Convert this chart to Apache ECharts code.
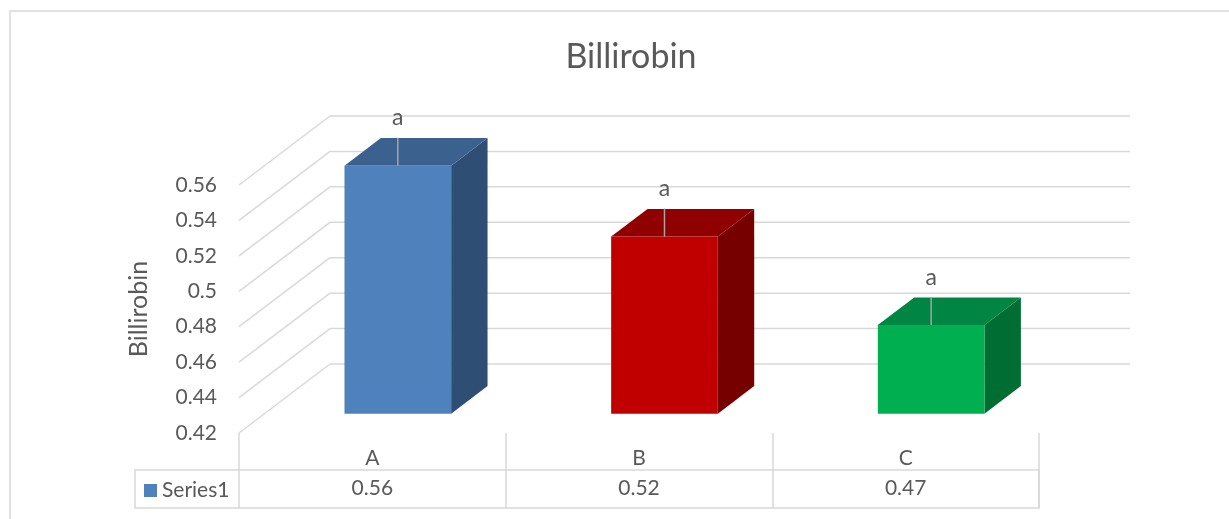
<!DOCTYPE html>
<html>
<head>
<meta charset="utf-8">
<title>Billirobin</title>
<script src="https://cdn.jsdelivr.net/npm/echarts@6/dist/echarts.min.js"></script>
<style>
  html, body { margin: 0; padding: 0; background: #fff; }
  #main { width: 1229px; height: 519px; }
</style>
</head>
<body>
<div id="main"></div>
<script>
// data
var categories = ["A", "B", "C"];
var values = [0.56, 0.52, 0.47];
var letters = ["a", "a", "a"];
var yTicks = [0.42, 0.44, 0.46, 0.48, 0.5, 0.52, 0.54, 0.56];

// colours of each box: front, top, side
var frontColors = ["#4f81bd", "#c00000", "#00b050"];
var topColors = ["#3b618e", "#900000", "#008542"];
var sideColors = ["#2f4e73", "#760000", "#006e32"];

// how far the back wall sits from the front plane (px)
var DX = 91, DY = -69;
var TEXT = "#595959", GRID = "#d9d9d9", FONT = "Lato";

var chart = echarts.init(document.getElementById("main"));

// side wall diagonal + back wall line for one tick
function wallItem(params, api) {
  var cs = params.coordSys;
  var y = api.coord([0, api.value(1)])[1];
  var x0 = cs.x, x1 = cs.x + cs.width;
  var st = { stroke: GRID, lineWidth: 1.5 };
  return {
    type: "group",
    children: [
      { type: "line", shape: { x1: x0, y1: y, x2: x0 + DX, y2: y + DY }, style: st },
      { type: "line", shape: { x1: x0 + DX, y1: y + DY, x2: x1 + DX, y2: y + DY }, style: st }
    ]
  };
}

function barItem(params, api) {
  var i = params.dataIndex;
  var base = api.coord([api.value(0), yTicks[0]]);
  var top = api.coord([api.value(0), api.value(1)]);
  var band = api.size([1, 0])[0];
  var hw = band * 0.2;
  var d0 = 0.28, d1 = 0.68;
  var cx = base[0] + DX * d0;
  var xl = cx - hw, xr = cx + hw;
  var yt = top[1] + DY * d0, yb = base[1] + DY * d0;
  var sx = DX * (d1 - d0), sy = DY * (d1 - d0);
  return {
    type: "group",
    children: [
      { type: "polygon", shape: { points: [[xr, yt], [xr, yb], [xr + sx, yb + sy], [xr + sx, yt + sy]] },
        style: { fill: sideColors[i] } },
      { type: "polygon", shape: { points: [[xl, yt], [xr, yt], [xr + sx, yt + sy], [xl + sx, yt + sy]] },
        style: { fill: topColors[i] } },
      { type: "rect", shape: { x: xl, y: yt, width: xr - xl, height: yb - yt },
        style: { fill: frontColors[i] } },
      { type: "line", shape: { x1: cx, y1: yt, x2: cx, y2: yt - 28 },
        style: { stroke: "#a6a6a6", lineWidth: 1.5 } },
      { type: "text", x: cx, y: yt - 48,
        style: { text: letters[i], fill: TEXT, font: "23px " + FONT, align: "center", verticalAlign: "middle" } }
    ]
  };
}

chart.setOption({
  animation: false,
  title: {
    text: "Billirobin",
    left: 626,
    textAlign: "center",
    top: 35,
    textStyle: { color: TEXT, fontFamily: FONT, fontSize: 34, fontWeight: "normal" }
  },
  legend: {
    data: ["Series1"],
    left: 144,
    top: 480,
    padding: 0,
    icon: "rect",
    itemWidth: 13,
    itemHeight: 13,
    itemGap: 5,
    textStyle: { color: TEXT, fontFamily: FONT, fontSize: 21 }
  },
  grid: { left: 239, right: 190, top: 185, bottom: 86 },
  xAxis: [
    {
      type: "category",
      data: categories,
      axisLine: { show: false },
      axisTick: { show: true, length: 75, lineStyle: { color: GRID, width: 1.5 } },
      axisLabel: { color: TEXT, fontFamily: FONT, fontSize: 21, margin: 15 },
      splitLine: { show: false }
    },
    {
      type: "category",
      position: "bottom",
      offset: 0,
      data: values.map(String),
      axisLine: { show: false },
      axisTick: { show: false },
      axisLabel: { color: TEXT, fontFamily: FONT, fontSize: 21, margin: 45 },
      splitLine: { show: false }
    }
  ],
  yAxis: {
    type: "value",
    min: yTicks[0],
    max: yTicks[yTicks.length - 1],
    interval: 0.02,
    name: "Billirobin",
    nameLocation: "middle",
    nameRotate: 90,
    nameGap: 88,
    nameTextStyle: { color: TEXT, fontFamily: FONT, fontSize: 25 },
    axisLine: { show: false },
    axisTick: { show: false },
    splitLine: { show: false },
    axisLabel: { color: TEXT, fontFamily: FONT, fontSize: 21, margin: 22 }
  },
  graphic: [
    { type: "rect", shape: { x: 10, y: 11, width: 1400, height: 700 },
      style: { fill: null, stroke: GRID, lineWidth: 1.5 }, z: -1 },
    { type: "rect", shape: { x: 135, y: 470, width: 904, height: 38 },
      style: { fill: null, stroke: GRID, lineWidth: 1.5 } }
  ],
  series: [
    {
      type: "custom",
      clip: false,
      z: 1,
      silent: true,
      renderItem: wallItem,
      data: yTicks.map(function (v) { return [0, v]; })
    },
    {
      name: "Series1",
      type: "custom",
      clip: false,
      z: 2,
      itemStyle: { color: frontColors[0] },
      renderItem: barItem,
      data: categories.map(function (c, i) { return [i, values[i]]; })
    }
  ]
});
</script>
</body>
</html>
